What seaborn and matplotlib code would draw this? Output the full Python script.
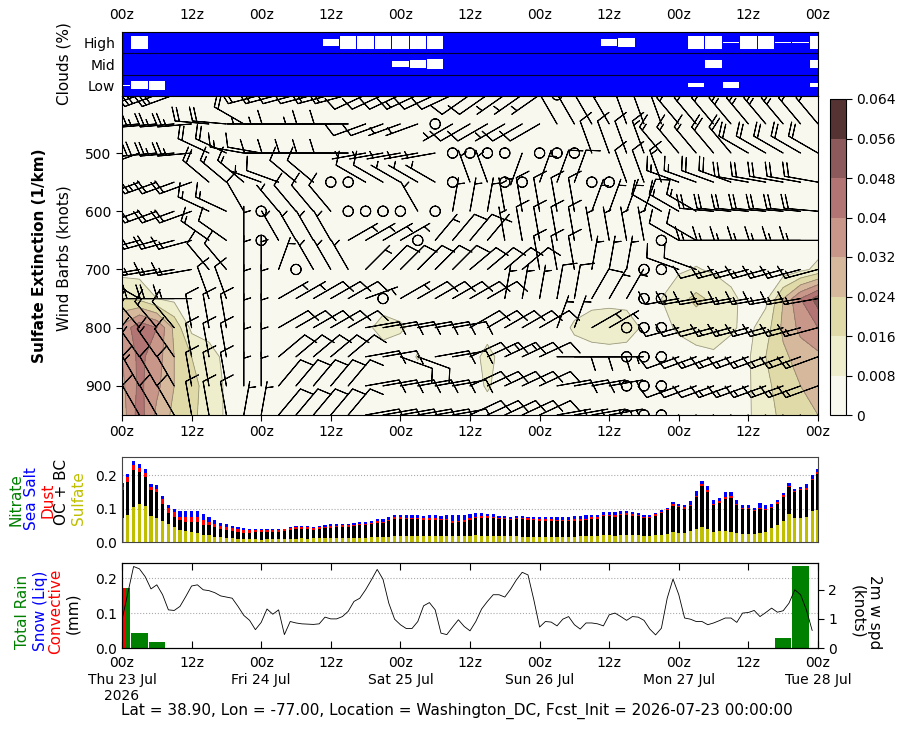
import numpy as np
import matplotlib
matplotlib.use("Agg")
import matplotlib.pyplot as plt
import seaborn as sns
from matplotlib.colors import ListedColormap, BoundaryNorm

sns.set_style("ticks")
plt.rcParams['font.family'] = ['DejaVu Sans']
plt.rcParams.update({'text.color': 'black', 'axes.labelcolor': 'black',
                     'xtick.color': 'black', 'ytick.color': 'black',
                     'axes.edgecolor': 'black', 'font.size': 10,
                     'xtick.labelsize': 10, 'ytick.labelsize': 10})

# ---------------- data ----------------
HOURS_3H = list(range(0, 121, 3))
HOURS_1H = list(range(0, 121))
LEVELS = [400, 450, 500, 550, 600, 650, 700, 750, 800, 850, 900, 950]
TICK_H = list(range(0, 121, 12))
TOP_LABELS = ["00z", "12z"] * 5 + ["00z"]
BOTTOM_LABELS = ["00z\nThu 23 Jul\n2026", "12z", "00z\nFri 24 Jul", "12z", "00z\nSat 25 Jul", "12z",
                 "00z\nSun 26 Jul", "12z", "00z\nMon 27 Jul", "12z", "00z\nTue 28 Jul"]

# cloud cover (%) every 3 h
CLOUD_HIGH = [0, 100, 0, 0, 0, 0, 0, 0, 0, 0, 0, 0, 55, 100, 100, 100, 100, 100, 100, 0, 0,
              0, 0, 0, 0, 0, 0, 0, 50, 70, 0, 0, 0, 100, 95, 12, 100, 100, 6, 6, 100]
CLOUD_MID = [0, 0, 0, 0, 0, 0, 0, 0, 0, 0, 0, 0, 0, 0, 0, 0, 43, 58, 73, 0, 0,
             0, 0, 0, 0, 0, 0, 0, 0, 0, 0, 0, 0, 0, 58, 0, 0, 0, 0, 0, 68]
CLOUD_LOW = [5, 62, 70, 0, 0, 0, 0, 0, 0, 0, 0, 0, 0, 0, 0, 0, 0, 0, 0, 0, 0,
             0, 0, 0, 0, 0, 0, 0, 0, 0, 0, 0, 0, 30, 0, 45, 0, 0, 0, 0, 30]

# sulfate extinction (1e-3 / km), rows = LEVELS, cols = HOURS_3H
EXT_1E3 = [
    [3]*41,
    [3]*41,
    [3]*41,
    [3]*41,
    [4]*41,
    [4]*41,
    [5, 5, 4, 4, 4, 4, 4, 4, 4, 4, 4, 4, 4, 4, 4, 4, 4, 4, 4, 4, 4,
     4, 4, 4, 4, 4, 4, 4, 4, 4, 4, 6, 7, 8.5, 7, 5, 4, 4, 3, 6, 10],
    [16, 14, 8, 6, 5, 4, 4, 4, 4, 4, 4, 4, 4, 4, 4, 4, 4, 4, 4, 4, 4,
     4, 4, 4, 4, 4, 5, 6, 6, 6, 5, 8, 13, 18, 14, 10, 5, 6, 24, 40, 52],
    [34, 46, 40, 22, 6, 5, 4, 4, 4, 4, 4, 4, 4, 4, 6, 11, 9, 5, 4, 4, 4,
     4, 4, 4, 4, 5, 9, 11, 12, 11, 7, 6, 9, 11, 11, 9, 6, 12, 26, 34, 40],
    [32, 42, 36, 24, 16, 11, 6, 4, 4, 4, 4, 4, 4, 4, 4, 4, 4, 8.5, 4, 4, 4,
     11, 4, 4, 4, 4, 5, 5, 5, 5, 5, 5, 5, 6, 7, 5, 7, 16, 22, 28, 30],
    [30, 42, 34, 24, 19, 12, 7, 4, 4, 4, 4, 4, 4, 4, 4, 4, 4, 4, 4, 4, 4,
     9, 4, 4, 4, 4, 4, 4, 4, 4, 4, 4, 4, 4, 4, 4, 7, 14, 20, 24, 26],
    [28, 44, 30, 22, 18, 12, 7, 4, 4, 4, 4, 4, 4, 4, 4, 4, 4, 4, 4, 4, 4,
     4, 4, 4, 4, 4, 4, 4, 4, 4, 4, 4, 4, 4, 4, 4, 7, 13, 18, 22, 24],
]
EXT_LEVELS = [0, 0.008, 0.016, 0.024, 0.032, 0.04, 0.048, 0.056, 0.064]
EXT_COLORS = ["#f9f8ee", "#eeedcc", "#e0daa8", "#d6b99c", "#c9968a", "#b37474", "#8c5a5a", "#553333"]

# wind direction (deg, from) and speed (knots); rows = LEVELS, cols = HOURS_3H
WDIR = [
    [250,250,250,250, 290,290,290,280, 255,255,255,255,255,255, 245,245,245,245,245,245, 235,235,235,235,235, 0, 320,320,320, 330,330,330,330,330,330,330,330,330,330,330,330],
    [265,265,265,265,265, 275,275, 300, 270,270,270,270,270,270, 250,250,250,250, 0, 240,240,240,240,240,240, 330,330,330,330, 340,340,340, 320,320,320,320,320,320,320,320,320],
    [250,250, 265,265,265, 295,295, 280,280, 270,270,270,270,270, 260,260,260,260,260, 0,0,0,0, 200, 0,0,0, 340,340,340,340, 320,320,320,320,320, 300,300,300,300,300],
    [250,250,250,250,250, 310,310,310, 290,290, 310,310, 0,0, 300,300,300,300,300, 0, 340,340, 0,0, 20,20,20, 0,0, 340,340,340, 290,290,290,290, 280,280,280,280,280],
    [250,250,250,250,250, 295,295, 330, 0, 320,320,320,320, 0,0,0,0, 330, 0, 10,10,10, 350,350,350,350,350, 20,20,20,20, 300,300,300, 275,275,275,275,275,275,275],
    [255,255,255,255,255, 305,305, 360, 0, 330,330,330,330, 60,60,60,60, 0, 40,40,40,40, 350,350,350,350,350, 350,350,350,350, 0, 300,300, 270,270,270,270,270,270,270],
    [260,260,260,260,260, 320,320, 360,360, 20, 0, 330,330,330, 45,45,45,45,45,45, 50,50,50,50, 350,350,350, 10,10,10, 0,0, 290,290, 255,255,255,255,255,255,255],
    [300,300, 270,270,270, 340,340, 360,360, 60,60,60,60,60, 70, 0, 60,60,60,60,60,60, 10,10,10,10,10, 30,30,30, 0,0, 260,260,260,260,260,260,260,260,260],
    [320,320,320,320, 350,350,350, 360,360, 60,60,60,60,60, 80,80,80,80,80,80, 60,60,60,60,60, 20,20, 60,60, 0,0,0, 255,255,255,255,255,255,255,255,255],
    [325,325,325,325, 350,350,350, 360,360, 50,50,50,50,50, 80,80,110,110,80,80, 65,65,65,65,65, 90,90,90,90, 0,0,0, 250,250,250,250,250,250,250,250,250],
    [330,330,330,330, 350,350,350, 360,360, 40,40,40,40,40, 80,80,80,80,80,80, 65,65,65,65,65, 80,80,80,80, 0,0,0, 250,250,250,250,250,250,250,250,250],
    [330,330,330,330, 350,350,350, 10,10, 40,40,40,40,40, 80,80,80,80,80,80, 65,65,65,65,65, 80,80,80,80, 0,0,0, 245,245,245,245,245,245,245,245,245],
]
WSPD = [
    [35,35,30,30, 25,20,20,15, 15,15,10,10,15,15, 10,10,10,15,10,10, 10,10,5,5,5, 0, 10,10,15, 15,15,15,20,20,20,20,20,25,25,25,25],
    [30,30,25,25,25, 20,20, 20, 5,5,10,5,10,10, 10,10,5,5, 0, 5,10,10,5,10,10, 10,10,10,15, 15,15,20, 20,20,20,25,25,25,25,20,20],
    [30,30, 30,25,25, 20,20, 15,10, 10,10,10,10,10, 5,5,5,5,5, 0,0,0,0, 5, 0,0,0, 10,10,10,15, 15,15,15,20,20, 20,20,20,20,20],
    [25,25,25,20,20, 20,15,15, 5,10, 10,10, 0,0, 10,10,5,5,5, 0, 5,5, 0,0, 5,10,10, 0,0, 10,10,15, 15,15,20,20, 20,20,20,20,20],
    [25,25,20,20,20, 15,15, 10, 0, 5,10,10,10, 0,0,0,0, 5, 0, 5,5,5, 5,10,10,10,10, 5,5,5,10, 10,15,15, 20,20,20,20,20,20,20],
    [20,20,20,20,15, 15,10, 5, 0, 5,5,5,5, 5,5,5,5, 0, 5,10,10,5, 5,10,10,10,10, 5,5,5,5, 0, 10,10, 15,15,15,15,15,15,15],
    [20,20,15,15,15, 10,10, 5,5, 5, 0, 5,5,5, 5,10,10,10,10,10, 10,10,10,10, 10,10,10, 5,5,5, 0,0, 10,10, 10,15,15,15,15,15,15],
    [15,15,20,20,15, 10,10, 5,5, 5,5,10,10,10, 5, 0, 5,10,10,10,10,10, 5,5,5,10,10, 10,5,5, 0,0, 10,10,10,10,15,15,15,15,15],
    [15,15,15,10, 10,10,10, 5,5, 10,10,10,10,10, 10,10,10,10,10,10, 10,10,10,10,10, 5,5, 5,5, 0,0,0, 10,10,10,15,15,15,15,15,15],
    [15,15,15,10, 10,10,10, 5,5, 10,10,10,10,10, 10,10,10,10,10,10, 10,15,15,10,10, 10,10,10,5, 0,0,0, 10,10,15,15,15,15,15,15,15],
    [15,15,10,10, 10,10,10, 5,5, 10,10,10,10,10, 10,10,10,10,10,10, 10,10,10,10,10, 10,10,5,5, 0,0,0, 10,10,10,15,15,15,15,15,15],
    [10,10,10,10, 10,10,10, 5,5, 10,10,10,10,10, 10,10,10,10,10,10, 10,10,10,10,10, 5,5,5,5, 0,0,0, 10,10,10,10,15,15,15,15,15],
]

# hourly aerosol AOD components
SULFATE = [0.071,0.081,0.104,0.115,0.107,0.078,0.072,0.063,0.053,0.045,
           0.036,0.033,0.030,0.028,0.021,0.021,0.016,0.016,0.011,0.011,
           0.009,0.008,0.008,0.008,0.007,0.008,0.008,0.009,0.009,0.010,
           0.010,0.011,0.010,0.011,0.011,0.012,0.012,0.012,0.012,0.012,
           0.013,0.013,0.013,0.014,0.014,0.015,0.016,0.017,0.017,0.018,
           0.018,0.017,0.017,0.018,0.018,0.018,0.019,0.017,0.017,0.018,
           0.018,0.020,0.019,0.019,0.019,0.017,0.017,0.017,0.017,0.015,
           0.015,0.015,0.015,0.015,0.015,0.015,0.015,0.015,0.016,0.017,
           0.017,0.017,0.018,0.020,0.020,0.019,0.020,0.020,0.020,0.020,
           0.018,0.018,0.020,0.020,0.024,0.029,0.026,0.026,0.033,0.039,
           0.045,0.039,0.030,0.033,0.033,0.030,0.027,0.024,0.024,0.024,
           0.027,0.030,0.042,0.051,0.063,0.084,0.072,0.072,0.075,0.093,
           0.096]
OCBC = [0.086,0.099,0.111,0.095,0.088,0.079,0.078,0.052,0.035,0.030,
        0.030,0.028,0.031,0.033,0.030,0.030,0.028,0.023,0.025,0.022,
        0.022,0.020,0.020,0.021,0.022,0.021,0.022,0.022,0.023,0.026,
        0.028,0.027,0.028,0.026,0.028,0.029,0.031,0.032,0.034,0.034,
        0.034,0.037,0.037,0.039,0.043,0.041,0.046,0.053,0.053,0.050,
        0.050,0.051,0.049,0.049,0.049,0.047,0.046,0.040,0.042,0.043,
        0.047,0.051,0.053,0.053,0.052,0.051,0.051,0.049,0.051,0.053,
        0.052,0.051,0.049,0.049,0.049,0.048,0.048,0.048,0.048,0.047,
        0.049,0.052,0.051,0.057,0.057,0.056,0.060,0.061,0.059,0.057,
        0.054,0.054,0.059,0.067,0.071,0.080,0.079,0.074,0.075,0.096,
        0.122,0.112,0.081,0.085,0.096,0.101,0.084,0.075,0.076,0.069,
        0.072,0.067,0.059,0.064,0.072,0.081,0.078,0.083,0.082,0.092,
        0.108]
DUST = [0.008,0.015,0.015,0.013,0.013,0.008,0.010,0.015,0.015,0.015,
        0.010,0.013,0.015,0.014,0.015,0.010,0.010,0.009,0.008,0.008,
        0.008,0.008,0.008,0.007,0.007,0.007,0.006,0.006,0.006,0.006,
        0.006,0.006,0.006,0.005,0.005,0.005,0.005,0.005,0.005,0.005,
        0.005,0.005,0.005,0.005,0.005,0.005,0.005,0.005,0.005,0.005,
        0.005,0.005,0.005,0.005,0.005,0.005,0.005,0.005,0.005,0.005,
        0.007,0.005,0.005,0.005,0.005,0.004,0.004,0.004,0.004,0.004,
        0.004,0.004,0.004,0.004,0.004,0.004,0.004,0.004,0.004,0.004,
        0.004,0.005,0.005,0.005,0.005,0.005,0.005,0.005,0.005,0.004,
        0.004,0.004,0.004,0.004,0.004,0.004,0.004,0.004,0.004,0.004,
        0.006,0.004,0.004,0.006,0.005,0.006,0.004,0.003,0.003,0.003,
        0.004,0.003,0.004,0.004,0.005,0.004,0.004,0.004,0.004,0.005,
        0.006]
SEASALT = [0.012,0.010,0.012,0.010,0.012,0.010,0.012,0.008,0.009,0.010,
           0.017,0.019,0.017,0.018,0.017,0.013,0.012,0.010,0.009,0.007,
           0.007,0.005,0.003,0.002,0.002,0.002,0.002,0.002,0.002,0.003,
           0.003,0.003,0.003,0.003,0.003,0.004,0.005,0.004,0.004,0.004,
           0.004,0.005,0.005,0.005,0.006,0.007,0.008,0.006,0.006,0.007,
           0.007,0.007,0.007,0.008,0.008,0.008,0.012,0.018,0.016,0.014,
           0.012,0.010,0.009,0.008,0.007,0.006,0.006,0.004,0.006,0.006,
           0.005,0.004,0.006,0.006,0.006,0.007,0.007,0.007,0.009,0.009,
           0.010,0.008,0.008,0.008,0.008,0.010,0.008,0.006,0.006,0.005,
           0.006,0.006,0.005,0.004,0.004,0.006,0.006,0.006,0.010,0.013,
           0.009,0.012,0.010,0.008,0.016,0.013,0.010,0.008,0.007,0.007,
           0.014,0.010,0.008,0.006,0.007,0.008,0.006,0.005,0.012,0.010,
           0.008]

# precipitation (mm / 3 h)
TOTAL_RAIN = [0.171, 0.042, 0.016, 0, 0, 0, 0, 0, 0, 0, 0, 0, 0, 0, 0, 0, 0, 0, 0, 0, 0,
              0, 0, 0, 0, 0, 0, 0, 0, 0, 0, 0, 0, 0, 0, 0, 0, 0, 0.029, 0.233, 0]
CONVECTIVE = [0.171, 0, 0, 0, 0, 0, 0, 0, 0, 0, 0, 0, 0, 0, 0, 0, 0, 0, 0, 0, 0,
              0, 0, 0, 0, 0, 0, 0, 0, 0, 0, 0, 0, 0, 0, 0, 0, 0, 0, 0, 0]
# 2 m wind speed (knots), hourly 0..119
WIND2M = [0.97,1.88,2.8,2.72,2.45,2.03,2.17,1.83,1.31,1.29, 1.43,1.77,2.13,2.17,2.0,1.97,1.9,1.79,1.75,1.71,
          1.43,1.12,0.95,0.63,0.88,1.34,1.16,1.31,0.46,0.91, 0.86,0.83,0.82,0.81,0.83,1.06,1.0,1.0,1.08,1.26,
          1.6,1.71,2.0,2.34,2.7,2.36,1.54,0.99,0.8,0.67, 0.67,0.91,1.45,1.56,1.31,0.51,0.46,0.72,0.97,0.74,
          0.59,0.91,1.34,1.6,1.83,1.83,1.75,2.02,2.34,2.6, 2.51,1.66,0.72,0.91,0.89,0.76,0.99,1.08,0.8,0.65,
          0.86,0.86,0.83,0.76,1.14,1.2,1.08,0.95,1.08,1.06, 0.95,0.65,0.45,0.68,1.71,2.37,1.83,1.03,0.99,0.91,
          0.91,0.8,0.86,0.94,1.03,1.03,0.88,1.2,1.22,1.29, 1.08,1.22,1.37,1.23,1.28,1.54,2.0,1.83,1.31,0.6]

TITLE = "Lat = 38.90, Lon = -77.00, Location = Washington_DC, Fcst_Init = 2026-07-23 00:00:00"

# ---------------- figure ----------------
W, H = 909, 730
fig = plt.figure(figsize=(W / 100, H / 100), dpi=100)


def rect(x0, y0, x1, y1):
    return [x0 / W, 1 - y1 / H, (x1 - x0) / W, (y1 - y0) / H]


ax_cl = fig.add_axes(rect(122, 32, 818, 96))
ax_m = fig.add_axes(rect(122, 96, 818, 415))
cax = fig.add_axes(rect(830, 99, 846, 415))
ax_a = fig.add_axes(rect(122, 457, 818, 542))
ax_p = fig.add_axes(rect(122, 563, 818, 648))

# ---- clouds ----
ax_cl.set_facecolor('blue')
for vals, center in ((CLOUD_LOW, 0.5), (CLOUD_MID, 1.5), (CLOUD_HIGH, 2.5)):
    hgt = np.array(vals) / 100.0 * 0.62
    ax_cl.bar(HOURS_3H, hgt, bottom=center - hgt / 2, width=2.8, color='white', linewidth=0)
for yy in (1, 2):
    ax_cl.axhline(yy, color='#000033', lw=0.8)
ax_cl.set_xlim(0, 120)
ax_cl.set_ylim(0, 3)
ax_cl.set_yticks([0.5, 1.5, 2.5])
ax_cl.set_yticklabels(['Low', 'Mid', 'High'])
ax_cl.xaxis.tick_top()
ax_cl.set_xticks(TICK_H)
ax_cl.set_xticklabels(TOP_LABELS)
ax_cl.tick_params(axis='x', length=0, pad=7)
ax_cl.tick_params(axis='y', length=0, pad=5)

# ---- main: extinction + barbs ----
ext = np.array(EXT_1E3, dtype=float) * 1e-3
cmap = ListedColormap(EXT_COLORS)
norm = BoundaryNorm(EXT_LEVELS, cmap.N)
cf = ax_m.contourf(HOURS_3H, LEVELS, ext, levels=EXT_LEVELS, cmap=cmap, norm=norm)
ax_m.contour(HOURS_3H, LEVELS, ext, levels=EXT_LEVELS[1:], colors='#5a5a48', linewidths=0.6, alpha=0.55)
d = np.deg2rad(np.array(WDIR, dtype=float))
s = np.array(WSPD, dtype=float)
U = -s * np.sin(d)
V = -s * np.cos(d)
HH, PP = np.meshgrid(HOURS_3H, LEVELS)
ax_m.barbs(HH, PP, U, V, length=7, linewidth=0.75, color='k')
ax_m.set_xlim(0, 120)
ax_m.set_ylim(950, 402)
ax_m.set_yticks([500, 600, 700, 800, 900])
ax_m.set_xticks(TICK_H)
ax_m.set_xticklabels(TOP_LABELS)
ax_m.tick_params(direction='out', length=4)

cb = fig.colorbar(cf, cax=cax, ticks=EXT_LEVELS)
cb.ax.set_yticklabels(['0', '0.008', '0.016', '0.024', '0.032', '0.04', '0.048', '0.056', '0.064'])
cb.outline.set_linewidth(0.8)
cb.ax.tick_params(length=4)

# ---- aerosols ----
sul = np.array(SULFATE); oc = np.array(OCBC); du = np.array(DUST); ss = np.array(SEASALT)
bw = 0.55
ax_a.bar(HOURS_1H, sul, width=bw, color='y', linewidth=0)
ax_a.bar(HOURS_1H, oc, bottom=sul, width=bw, color='k', linewidth=0)
ax_a.bar(HOURS_1H, du, bottom=sul + oc, width=bw, color='r', linewidth=0)
ax_a.bar(HOURS_1H, ss, bottom=sul + oc + du, width=bw, color='b', linewidth=0)
ax_a.set_xlim(0, 120)
ax_a.set_ylim(0, 0.255)
ax_a.set_yticks([0.0, 0.1, 0.2])
ax_a.set_yticklabels(['0.0', '0.1', '0.2'])
ax_a.set_xticks(TICK_H)
ax_a.set_xticklabels([])
ax_a.tick_params(axis='x', length=0)
ax_a.tick_params(axis='y', length=0)
for yy in (0.1, 0.2):
    ax_a.axhline(yy, color='#aaaaaa', lw=0.8, ls=':', zorder=0)
for sp in ax_a.spines.values():
    sp.set_color('#444444')

# ---- precipitation + 2 m wind ----
ax_p.bar(HOURS_3H, TOTAL_RAIN, width=2.8, color='green', linewidth=0)
ax_p.bar(HOURS_3H, CONVECTIVE, width=1.0, color='red', linewidth=0)
ax_p.set_xlim(0, 120)
ax_p.set_ylim(0, 0.243)
ax_p.set_yticks([0.0, 0.1, 0.2])
ax_p.set_yticklabels(['0.0', '0.1', '0.2'])
for yy in (0.1, 0.2):
    ax_p.axhline(yy, color='#aaaaaa', lw=0.8, ls=':', zorder=0)
ax_p.set_xticks(TICK_H)
ax_p.set_xticklabels(BOTTOM_LABELS)
ax_p.tick_params(axis='x', direction='in', length=5, top=True, pad=6)
ax_p.tick_params(axis='y', direction='in', length=0)

ax_w = ax_p.twinx()
sns.lineplot(x=HOURS_1H[:120], y=WIND2M, ax=ax_w, color='k', linewidth=0.6)
ax_w.set_ylim(0, 2.92)
ax_w.set_yticks([0, 1, 2])
ax_w.set_xlim(0, 120)
ax_w.tick_params(axis='y', direction='out', length=4)
ax_w.set_ylabel('')

# ---- labels ----
def ftxt(x, y, s, **kw):
    fig.text(x / W, 1 - y / H, s, ha='center', va='center', **kw)

ftxt(64, 64, 'Clouds (%)', rotation=90, fontsize=11)
ftxt(40, 256, 'Sulfate Extinction (1/km)', rotation=90, fontsize=11, fontweight='bold')
ftxt(64, 258, 'Wind Barbs (knots)', rotation=90, fontsize=11)
ftxt(16.5, 500, 'Nitrate', rotation=90, fontsize=11, color='green')
ftxt(32, 499, 'Sea Salt', rotation=90, fontsize=11, color='blue')
ftxt(47.5, 500, 'Dust', rotation=90, fontsize=11, color='red')
ftxt(62, 492, 'OC + BC', rotation=90, fontsize=11, color='black')
ftxt(78, 498, 'Sulfate', rotation=90, fontsize=11, color='y')
ftxt(23, 612, 'Total Rain', rotation=90, fontsize=11, color='green')
ftxt(40, 611, 'Snow (Liq)', rotation=90, fontsize=11, color='blue')
ftxt(56, 611, 'Convective', rotation=90, fontsize=11, color='red')
ftxt(73, 613, '(mm)', rotation=90, fontsize=11)
ftxt(866, 612, '2m w spd\n(knots)', rotation=270, fontsize=11)
ftxt(457, 711, TITLE, fontsize=11)

fig.savefig('out.png', dpi=100)
